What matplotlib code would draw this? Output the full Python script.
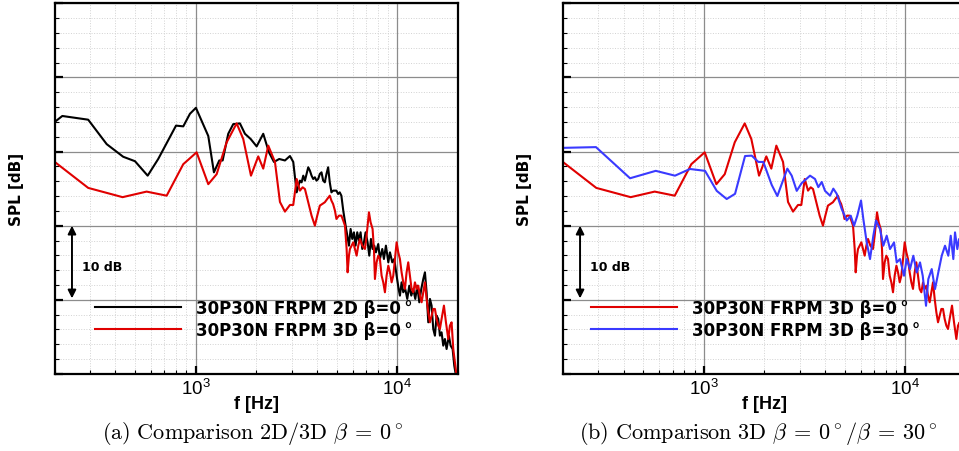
import numpy as np
import matplotlib
matplotlib.use("Agg")
from matplotlib import pyplot as plt
from matplotlib.ticker import LogLocator, MultipleLocator, NullFormatter

# spectra: frequency [Hz], SPL [dB] (relative, 10 dB per major grid)
freq_2d = [200, 218, 293, 362, 437, 500, 578, 652, 799, 868,
           937, 1003, 1155, 1232, 1310, 1361, 1451, 1536, 1658, 1756,
           1874, 2007, 2164, 2310, 2446, 2598, 2773, 2936, 3049, 3170,
           3291, 3354, 3418, 3484, 3550, 3618, 3687, 3758, 3830, 3903,
           3977, 4053, 4131, 4210, 4290, 4372, 4456, 4541, 4627, 4716,
           4806, 4991, 5087, 5184, 5283, 5398, 5545, 5653, 5760, 5870,
           5983, 6098, 6213, 6332, 6456, 6579, 6707, 6836, 6967, 7128,
           7266, 7405, 7546, 7691, 7839, 8050, 8204, 8428, 8590, 8787,
           9031, 9202, 9448, 9666, 9929, 10159, 10311, 10509, 10712, 10959,
           11213, 11473, 11739, 12010, 12289, 12572, 12863, 13161, 13465, 13721,
           13986, 14255, 14528, 14806, 15090, 15380, 15675, 15977, 16283, 16596,
           16915, 17240, 17573, 18047, 18395, 18823, 19183, 19553]
spl_2d = [34.0, 34.8, 34.3, 31.0, 29.3, 28.7, 26.75, 29.0, 33.5, 33.4,
          35.1, 35.9, 32.1, 27.2, 28.8, 28.8, 32.4, 33.7, 33.8, 32.4,
          31.7, 30.7, 32.4, 29.9, 28.6, 29.0, 28.8, 29.4, 28.6, 24.5,
          26.08, 25.85, 26.75, 26.08, 26.98, 27.88, 27.43, 26.75, 26.30, 26.53,
          26.08, 26.30, 26.98, 27.20, 26.08, 25.85, 26.98, 27.88, 25.85, 24.5,
          24.73, 24.73, 24.28, 24.5, 24.05, 22.03, 20.01, 18.66, 17.31, 19.56,
          18.21, 19.11, 17.31, 19.11, 17.98, 19.11, 16.86, 17.76, 19.11, 17.76,
          15.96, 18.21, 16.86, 17.31, 16.41, 17.53, 15.51, 16.86, 15.51, 17.31,
          15.06, 16.41, 15.06, 15.51, 13.26, 11.47, 10.57, 12.36, 11.02, 11.47,
          10.12, 11.91, 10.57, 11.47, 10.12, 11.91, 9.67, 11.47, 12.81, 13.71,
          11.02, 6.97, 10.12, 9.22, 6.07, 5.17, 7.87, 7.42, 5.17, 5.62,
          3.82, 4.72, 3.37, 5.17, 3.82, 3.37, 1.12, -0.22]

freq_3d_b0 = [200, 293, 434, 571, 718, 868, 937, 1011, 1155, 1271,
              1425, 1597, 1722, 1881, 2044, 2164, 2292, 2474, 2619, 2773,
              2936, 3049, 3170, 3291, 3393, 3484, 3618, 3758, 3903, 4011,
              4131, 4248, 4372, 4497, 4627, 4716, 4806, 4909, 4991, 5139,
              5283, 5398, 5503, 5609, 5672, 5760, 5825, 5938, 6052, 6168,
              6287, 6408, 6531, 6707, 6914, 7047, 7238, 7376, 7546, 7662,
              7750, 7899, 8050, 8204, 8364, 8525, 8688, 8855, 9031, 9202,
              9378, 9557, 9740, 9929, 10119, 10311, 10509, 10712, 10918, 11128,
              11339, 11558, 11781, 12010, 12241, 12477, 12715, 12961, 13210, 13465,
              13721, 13986, 14255, 14528, 14806, 15090, 15380, 15675, 15977, 16283,
              16596, 17047, 17443, 17914, 18252, 18604, 18966, 19328, 19700]
spl_3d_b0 = [28.6, 25.1, 23.85, 24.6, 24.05, 28.3, 29.1, 29.9, 25.6, 26.95,
             31.25, 33.8, 31.7, 26.75, 29.35, 27.7, 30.8, 28.6, 23.2, 21.9,
             22.8, 22.8, 26.3, 24.73, 25.18, 24.95, 23.16, 21.36, 20.01, 21.36,
             22.71, 22.93, 23.16, 23.61, 24.05, 23.38, 22.93, 22.03, 20.91, 21.36,
             21.36, 20.68, 20.01, 16.86, 13.71, 15.96, 16.86, 17.31, 17.76, 16.86,
             15.96, 17.31, 18.21, 17.31, 16.86, 18.66, 21.81, 20.46, 19.56, 16.86,
             12.81, 15.06, 15.96, 15.51, 13.26, 12.36, 11.02, 13.26, 14.61, 13.71,
             12.36, 13.26, 15.51, 17.76, 16.41, 15.51, 13.71, 12.36, 11.47, 13.71,
             15.06, 13.26, 11.47, 11.02, 12.36, 11.47, 11.91, 10.57, 9.67, 11.02,
             12.36, 10.12, 8.32, 6.97, 7.87, 8.77, 8.77, 7.42, 6.52, 6.07,
             7.42, 9.22, 6.97, 4.72, 6.52, 6.97, 3.37, 1.57, -0.22]

freq_3d_b30 = [200, 292, 431, 578, 720, 855, 1015, 1160, 1300, 1430,
               1603, 1730, 1866, 1975, 2174, 2318, 2598, 2732, 2893, 3063,
               3368, 3565, 3702, 3849, 3997, 4232, 4394, 4568, 4836, 5121,
               5361, 5567, 5779, 6029, 6190, 6434, 6682, 6940, 7157, 7490,
               7779, 8085, 8396, 8790, 9064, 9413, 9852, 10160, 10551, 10957,
               11390, 11829, 12200, 12668, 13005, 13520, 14038, 14577, 15157, 15736,
               16341, 16797, 17303, 17640, 18110, 18470, 19000, 19500, 20000]
spl_3d_b30 = [30.5, 30.6, 26.4, 27.4, 26.75, 27.65, 27.4, 24.7, 23.6, 24.3,
              29.4, 29.45, 28.6, 28.6, 25.5, 24.0, 27.7, 26.75, 24.7, 25.75,
              26.75, 26.3, 25.2, 25.9, 24.7, 24.05, 25.0, 24.3, 22.25, 20.7,
              21.35, 20.0, 21.35, 23.4, 20.9, 17.75, 15.5, 18.65, 20.7, 19.55,
              17.3, 18.65, 16.85, 17.75, 15.05, 15.5, 13.25, 15.5, 14.15, 15.95,
              13.7, 15.05, 13.25, 9.2, 12.8, 14.15, 11.45, 13.7, 15.95, 17.3,
              15.95, 18.65, 15.5, 19.1, 16.85, 18.2, 16.5, 18.5, 17.0]

label_2d = "30P30N FRPM 2D \u03b2=0\u2009\u00b0"
label_b0 = "30P30N FRPM 3D \u03b2=0\u2009\u00b0"
label_b30 = "30P30N FRPM 3D \u03b2=30\u2009\u00b0"
caption_a = r"$\mathrm{(a)\ Comparison\ 2D/3D}\ \beta\:=\:0^\circ$"
caption_b = r"$\mathrm{(b)\ Comparison\ 3D}\ \beta\:=\:0^\circ/\beta\:=\:30^\circ$"

RED = '#e00000'
BLUE = '#3a3aff'
HELV = ['Liberation Sans', 'DejaVu Sans']


def style_axes(ax):
    ax.set_xscale('log')
    ax.set_xlim(200, 20000)
    ax.set_ylim(0, 50)
    ax.yaxis.set_major_locator(MultipleLocator(10))
    ax.yaxis.set_minor_locator(MultipleLocator(2))
    ax.xaxis.set_major_locator(LogLocator(base=10))
    ax.xaxis.set_minor_locator(LogLocator(base=10, subs=np.arange(2, 10)))
    ax.xaxis.set_minor_formatter(NullFormatter())
    ax.set_axisbelow(True)
    ax.grid(which='major', color='#8c8c8c', lw=0.9)
    ax.grid(which='minor', color='#d2d2d2', lw=0.7, ls=':')
    ax.tick_params(which='both', direction='in', top=False, right=False, labelleft=False)
    ax.tick_params(which='major', length=6, width=1.6, pad=2.5, labelsize=13.5, labelfontfamily=HELV)
    ax.tick_params(which='minor', length=3, width=0.8)
    for s in ax.spines.values():
        s.set_linewidth(1.6)
    ax.text(0.5, -0.08, "f [Hz]", transform=ax.transAxes, ha='center', va='center',
            fontsize=13, fontweight='bold', family=HELV)
    ax.text(-0.094, 0.5, "SPL [dB]", transform=ax.transAxes, ha='center', va='center',
            rotation=90, fontsize=11, fontweight='bold')
    # 10 dB scale arrow
    trans = ax.get_yaxis_transform()
    ax.annotate("", xy=(0.0427, 10.2), xytext=(0.0427, 20.0), xycoords=trans, textcoords=trans,
                arrowprops=dict(arrowstyle='<|-|>', color='black', lw=1.4,
                                mutation_scale=12, shrinkA=0, shrinkB=0))
    ax.text(0.0675, 14.5, "10 dB", transform=trans, ha='left', va='center',
            fontsize=9, fontweight='bold')


fig = plt.figure(figsize=(9.59, 4.52), dpi=100)
ax1 = fig.add_axes([0.0571, 0.1704, 0.4204, 0.8201])
ax2 = fig.add_axes([0.5869, 0.1704, 0.4204, 0.8201])

style_axes(ax1)
ax1.plot(freq_2d, spl_2d, color='black', lw=1.5, label=label_2d)
ax1.plot(freq_3d_b0, spl_3d_b0, color=RED, lw=1.5, label=label_b0)

style_axes(ax2)
ax2.plot(freq_3d_b0, spl_3d_b0, color=RED, lw=1.5, label=label_b0)
ax2.plot(freq_3d_b30, spl_3d_b30, color=BLUE, lw=1.5, label=label_b30)

leg_kw = dict(frameon=False, loc='upper left', borderpad=0, borderaxespad=0,
              handlelength=5.16, handletextpad=0.9, labelspacing=0.25,
              prop={'weight': 'bold', 'size': 12})
ax1.legend(bbox_to_anchor=(0.0997, 0.203), **leg_kw)
ax2.legend(bbox_to_anchor=(0.070, 0.203), **leg_kw)

fig.text(0.263, 0.042, caption_a, ha='center', va='center', fontsize=16, math_fontfamily='cm')
fig.text(0.791, 0.042, caption_b, ha='center', va='center', fontsize=16, math_fontfamily='cm')

fig.savefig('out.png', dpi=100)
